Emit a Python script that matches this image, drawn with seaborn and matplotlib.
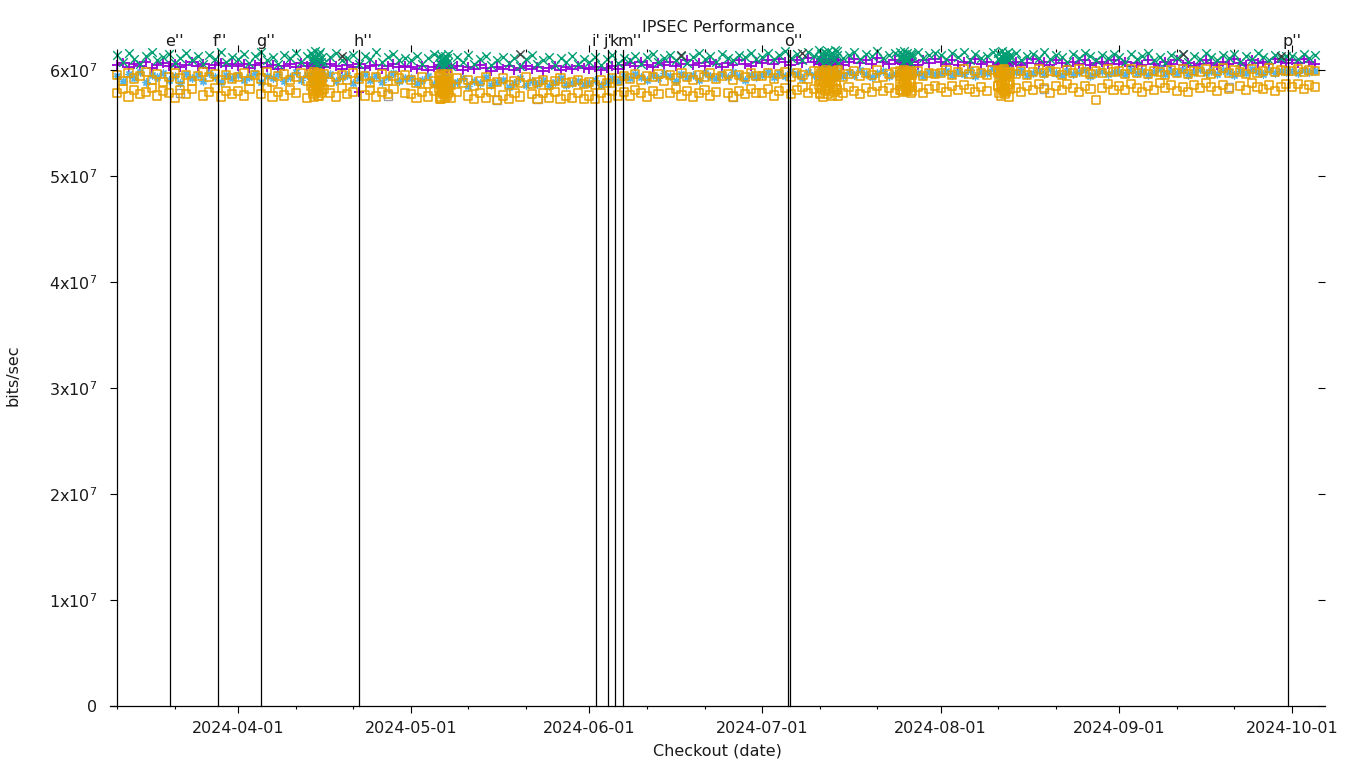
import numpy as np
import pandas as pd
import matplotlib
matplotlib.use("Agg")
import matplotlib.pyplot as plt
import matplotlib.dates as mdates
from matplotlib.lines import Line2D
from matplotlib.ticker import FixedLocator, FixedFormatter
import seaborn as sns

nan = float("nan")
UNIT = 1e5  # all series values below are in units of 1e5 bits/sec

# ---------------- daily runs (one value per day, month by month) -------------
month_starts = ["2024-03-11", "2024-04-01", "2024-05-01", "2024-06-01",
                "2024-07-01", "2024-08-01", "2024-09-01", "2024-10-01"]

green_x = [
    [614,608,616,610,606,613,617,609,612,615,607,611,616,609,613,606,614,610,617,608,612],
    [610,615,607,613,617,609,612,606,614,611,616,608,613,610,615,607,612,616,609,611,614,606,613,610,617,608,612,615,609,611],
    [609,613,606,611,615,607,610,604,612,608,614,606,610,613,605,609,612,607,611,604,610,614,606,609,612,605,611,608,613,606,610],
    [608,612,605,610,614,607,611,609,613,606,612,615,608,611,614,609,613,607,612,616,610,613,608,615,611,609,614,612,616,610],
    [612,616,610,614,618,611,615,609,617,613,610,616,612,618,611,614,617,610,615,613,618,611,614,616,612,609,615,617,611,614,616],
    [614,610,616,612,617,609,615,611,613,617,610,614,612,616,609,613,615,611,617,610,614,612,608,615,611,616,613,609,614,611,615],
    [612,608,615,610,613,616,609,612,607,614,611,615,608,613,610,616,612,609,614,611,615,608,613,610,616,612,609,614,611,613],
    [613,610,615,611,614],
]
purple_plus = [
    [605,607,603,606,604,608,602,605,607,604,606,603,605,608,604,606,602,605,607,604,606],
    [604,606,602,605,607,603,605,601,604,606,603,607,604,602,605,603,606,604,601,605,603,606,602,604,605,601,604,606,603,604],
    [603,601,604,600,603,605,601,602,604,600,603,601,605,602,599,603,601,604,600,602,604,601,603,599,602,604,600,603,601,604,602],
    [601,603,600,602,604,601,605,607,604,608,605,603,607,605,608,604,606,609,605,607,604,608,606,603,607,605,609,606,604,608],
    [607,609,606,610,608,605,609,607,611,608,606,610,607,609,605,608,610,607,609,606,611,608,606,609,607,610,608,605,609,607,610],
    [608,606,609,605,608,607,610,606,608,604,607,609,606,608,605,607,610,606,608,605,609,607,604,608,606,609,605,607,608,606,609],
    [606,608,604,607,605,609,606,604,608,606,609,605,607,604,606,609,607,605,608,606,610,607,605,609,607,608,606,610,608,607],
    [609,607,610,608,606],
]
blue_star = [
    [594,590,596,592,598,589,595,593,597,591,594,588,596,592,595,590,597,593,589,595,592],
    [595,591,593,597,589,594,592,596,590,593,598,591,595,589,594,592,596,590,593,595,588,592,596,591,594,589,593,597,590,592],
    [592,588,591,594,587,590,593,586,589,592,585,590,588,593,586,589,591,584,588,592,586,590,587,591,585,589,592,586,588,590,587],
    [588,591,586,589,592,590,594,592,596,593,591,595,592,597,594,590,596,593,595,591,597,594,592,596,593,598,594,591,595,593],
    [595,598,593,597,594,599,596,592,598,595,597,593,599,596,594,598,595,600,596,593,597,599,594,596,598,595,600,597,594,598,596],
    [597,599,595,598,596,600,594,598,597,601,595,599,596,598,600,595,597,599,596,601,597,595,599,596,598,600,594,597,599,596,598],
    [598,596,600,597,599,595,598,601,596,599,597,600,595,598,601,597,599,596,600,598,595,599,597,601,598,596,600,597,599,598],
    [599,597,600,598,599],
]
orange_hi = [
    [595,590,597,592,594,598,591,596,589,593,597,592,595,590,594,598,593,596,591,595,592],
    [593,597,590,595,592,598,589,594,596,591,593,597,590,594,592,596,589,593,595,591,597,592,594,588,593,596,590,594,592,595],
    [591,588,593,587,590,594,589,586,592,588,591,585,590,593,587,589,592,586,590,588,593,587,589,591,586,590,592,588,589,591,587],
    [589,586,591,588,592,590,594,592,596,591,594,593,596,590,595,592,597,593,591,595,593,597,592,594,596,591,595,593,597,594],
    [594,597,592,596,598,593,597,595,592,599,594,597,595,598,593,596,599,594,597,595,600,593,596,598,594,597,595,599,594,597,596],
    [597,600,595,598,601,596,599,597,595,600,597,601,598,596,599,595,598,601,597,599,598,595,600,597,601,598,596,599,597,601,598],
    [599,596,601,597,600,596,599,598,595,600,597,601,596,599,598,601,596,599,602,597,600,598,596,601,597,599,602,598,600,599],
    [599,601,598,600,599],
]
orange_lo = [
    [578,582,575,581,577,579,583,576,580,578,574,581,577,582,nan,576,579,583,575,580,577],
    [580,576,582,nan,577,583,575,579,576,581,578,nan,574,580,576,582,578,575,583,577,579,nan,576,581,575,579,577,582,nan,578],
    [577,574,579,575,580,573,577,574,579,nan,576,573,578,574,579,572,576,573,578,575,nan,577,573,578,574,579,573,576,574,578,573],
    [576,573,578,574,580,576,579,576,581,578,575,580,577,nan,578,582,576,580,575,578,581,576,579,nan,578,575,580,577,582,578],
    [578,582,576,580,583,577,581,584,578,582,577,581,nan,582,578,584,580,577,583,579,585,580,583,578,581,nan,580,584,578,582,585],
    [583,579,585,581,586,582,579,584,580,nan,585,581,587,583,579,585,581,587,583,578,585,581,587,583,579,585,582,nan,583,587,581],
    [585,581,587,583,579,585,581,588,583,586,580,584,579,586,583,588,584,580,586,582,nan,585,581,588,584,582,586,580,584,587],
    [584,587,582,586,584],
]

# ---------------- bursts of many runs (start time, offsets in days) ----------
burst_starts = ["2024-04-13 18:00", "2024-05-05 22:00", "2024-07-10 20:00",
                "2024-07-25 00:00", "2024-08-11 00:00"]
burst_offsets = [
    [0.0, 0.2, 0.3, 0.5, 0.7, 0.8, 1.0, 1.1, 1.3, 1.5, 1.6, 1.8],
    [0.0, 0.1, 0.3, 0.4, 0.6, 0.7, 0.9, 1.0, 1.2, 1.3, 1.5, 1.6],
    [0.0, 0.2, 0.4, 0.7, 0.9, 1.1, 1.3, 1.6, 1.8, 2.0, 2.3, 2.5, 2.7, 2.9, 3.2, 3.4],
    [0.0, 0.2, 0.3, 0.5, 0.7, 0.9, 1.0, 1.2, 1.4, 1.6, 1.8, 2.0],
    [0.0, 0.2, 0.4, 0.5, 0.7, 0.9, 1.1, 1.2, 1.4, 1.6, 1.8, 2.0],
]
burst_green = [
    [616,609,613,607,618,611,606,614,610,617,608,612],
    [612,606,609,614,604,610,607,613,605,611,608,615],
    [619,610,615,606,617,612,608,618,613,605,616,611,609,619,614,607],
    [617,611,614,608,618,612,609,616,610,615,607,613],
    [616,610,613,607,618,611,608,615,612,617,609,614],
]
burst_purple = [
    [606,604,607,605,603,606,608,604,605,607,603,606],
    [603,601,604,602,605,600,603,604,601,602,605,603],
    [608,606,609,607,605,610,608,606,609,607,605,608,610,606,607,609],
    [608,606,609,607,605,608,610,606,607,609,605,608],
    [607,605,608,606,604,607,609,605,606,608,604,607],
]
burst_blue = [
    [594,591,596,592,595,590,593,597,591,594,592,596],
    [590,587,592,589,591,586,590,593,588,591,589,592],
    [597,594,599,595,598,593,596,600,594,597,595,599,596,593,598,595],
    [597,594,598,595,599,593,596,598,594,597,595,599],
    [598,595,599,596,600,594,597,599,595,598,596,600],
]
burst_orange_hi = [
    [596,590,594,598,588,595,592,597,589,596,591,593],
    [594,587,591,596,589,593,586,595,590,592,588,596],
    [599,592,597,589,598,594,600,591,596,588,599,593,597,590,595,600],
    [599,594,597,591,600,596,592,598,595,599,590,597],
    [599,593,597,590,600,595,591,598,594,597,589,596],
]
burst_orange_lo = [
    [585,577,582,575,587,579,583,576,580,586,578,581],
    [582,575,579,573,584,577,580,574,581,576,583,578],
    [586,578,583,575,588,580,585,577,582,587,576,584,579,586,581,576],
    [587,581,585,579,589,583,580,586,582,588,578,584],
    [585,578,583,576,587,580,577,584,579,586,575,582],
]

# ---------------- stray points ----------------
gray_sq_dates = ["2024-03-22", "2024-04-27", "2024-05-16", "2024-05-23",
                 "2024-06-26", "2024-08-19", "2024-09-20"]
gray_sq_vals = [578, 576, 572, 573, 575, 582, 584]
dark_x_dates = ["2024-04-19", "2024-05-20", "2024-06-17", "2024-07-08",
                "2024-09-12", "2024-09-29"]
dark_x_vals = [613, 615, 614, 616, 615, 613]
extra_orange_dates = ["2024-08-28"]
extra_orange_vals = [572]
extra_purple_dates = ["2024-04-22"]
extra_purple_vals = [579]

# ---------------- event markers ----------------
event_times = ["2024-03-20 05:00", "2024-03-28 12:00", "2024-04-05 00:00",
               "2024-04-22 00:00", "2024-06-02 05:00", "2024-06-04 05:00",
               "2024-06-05 10:00", "2024-06-06 19:00", "2024-07-05 10:00",
               "2024-07-05 18:00", "2024-09-30 07:00"]
event_labels = ["e''", "f''", "g''", "h''", "i'", "j'", "k", "m''", "", "o''", "p''"]

y_ticks = [0, 1e7, 2e7, 3e7, 4e7, 5e7, 6e7]
y_tick_labels = ["0", "1x10$^{7}$", "2x10$^{7}$", "3x10$^{7}$", "4x10$^{7}$",
                 "5x10$^{7}$", "6x10$^{7}$"]

# ---------------- build long table ----------------
rows = []
def add_daily(name, months):
    for start, vals in zip(month_starts, months):
        dts = pd.date_range(start, periods=len(vals), freq="D")
        for d, v in zip(dts, vals):
            rows.append((d, v * UNIT, name))

def add_bursts(name, bursts):
    for start, offs, vals in zip(burst_starts, burst_offsets, bursts):
        t0 = pd.Timestamp(start)
        for o, v in zip(offs, vals):
            rows.append((t0 + pd.Timedelta(days=o), v * UNIT, name))

def add_points(name, dates, vals):
    for d, v in zip(dates, vals):
        rows.append((pd.Timestamp(d), v * UNIT, name))

add_points("gray", gray_sq_dates, gray_sq_vals)
add_daily("purple", purple_plus); add_bursts("purple", burst_purple)
add_points("purple", extra_purple_dates, extra_purple_vals)
add_daily("green", green_x); add_bursts("green", burst_green)
add_points("dark", dark_x_dates, dark_x_vals)
add_daily("blue", blue_star); add_bursts("blue", burst_blue)
add_daily("orange", orange_hi); add_bursts("orange", burst_orange_hi)
add_daily("orange", orange_lo); add_bursts("orange", burst_orange_lo)
add_points("orange", extra_orange_dates, extra_orange_vals)

df = pd.DataFrame(rows, columns=["date", "bps", "series"]).dropna()

# ---------------- figure ----------------
plt.rcParams["font.family"] = ["DejaVu Sans"]
plt.rcParams["mathtext.fontset"] = "dejavusans"
FS = 11.5

fig = plt.figure(figsize=(13.6, 7.68), dpi=100)
ax = fig.add_axes([117 / 1360, 1 - 706 / 768, (1318 - 117) / 1360, (706 - 52) / 768])

styles = {
    "gray":   dict(marker="s", s=34, facecolor="none", edgecolor="#a0a0a0", linewidth=1.0),
    "purple": dict(marker="+", s=46, color="#9400d3", linewidth=1.3),
    "green":  dict(marker="x", s=38, color="#009e73", linewidth=1.0),
    "dark":   dict(marker="x", s=36, color="#404040", linewidth=1.0),
    "blue":   dict(marker=(8, 2, 0), s=26, color="#56b4e9", linewidth=1.0),
    "orange": dict(marker="s", s=34, facecolor="none", edgecolor="#e69f00", linewidth=1.1),
}
for name in ["gray", "purple", "green", "dark", "blue", "orange"]:
    sub = df[df["series"] == name]
    kw = dict(styles[name])
    if "edgecolor" in kw:
        kw["color"] = kw["edgecolor"]
    sns.scatterplot(data=sub, x="date", y="bps", ax=ax, legend=False,
                    clip_on=False, **kw)

xmin = pd.Timestamp("2024-03-11")
xmax = pd.Timestamp("2024-10-05 12:00")
ax.set_xlim(xmin, xmax)
ax.set_ylim(0, 6.17e7)

for t, lab in zip(event_times, event_labels):
    ts = pd.Timestamp(t)
    ax.axvline(ts, ymin=0, ymax=1 + 2 / 654, color="black", lw=0.9,
               clip_on=False, zorder=10)
    if lab:
        ax.annotate(lab, xy=(mdates.date2num(ts), 1.0),
                    xycoords=("data", "axes fraction"),
                    xytext=(-3.6, 4.3), textcoords="offset points",
                    ha="left", va="baseline", fontsize=FS, color="#1a1a1a")

# axes styling
for sp in ["top", "right", "bottom"]:
    ax.spines[sp].set_visible(False)
ax.spines["left"].set_linewidth(0.9)
ax.spines["left"].set_color("black")
# bottom axis line, slightly longer than the plot area (as in the original)
ax.add_line(Line2D([-7 / 1201, 1 + 7 / 1201], [0, 0], transform=ax.transAxes,
                   color="black", lw=0.9, clip_on=False, zorder=11))

ax.xaxis.set_major_locator(mdates.MonthLocator())
ax.xaxis.set_major_formatter(mdates.DateFormatter("%Y-%m-%d"))
ax.xaxis.set_minor_locator(mdates.DayLocator(bymonthday=[11, 21]))
ax.yaxis.set_major_locator(FixedLocator(y_ticks))
ax.yaxis.set_major_formatter(FixedFormatter(y_tick_labels))

ax.tick_params(axis="x", which="major", direction="out", length=5, width=0.8,
               top=True, bottom=True, labelsize=FS, pad=5.5, colors="black")
ax.tick_params(axis="x", which="minor", direction="out", length=2.5, width=0.8,
               top=True, bottom=True)
ax.tick_params(axis="y", which="major", direction="out", length=5, width=0.8,
               left=True, right=True, labelsize=FS, pad=9, colors="black")
for lab in ax.get_xticklabels() + ax.get_yticklabels():
    lab.set_color("#1a1a1a")

ax.set_xlabel("Checkout (date)", fontsize=FS, color="#1a1a1a")
ax.xaxis.set_label_coords(0.5, -0.058)
ax.set_ylabel("bits/sec", fontsize=FS, color="#1a1a1a")
ax.yaxis.set_label_coords(-0.08, 0.505)

fig.text(718 / 1360, 1 - 32 / 768, "IPSEC Performance", ha="center",
         va="baseline", fontsize=FS, color="#1a1a1a")

fig.savefig("out.png", dpi=100)
